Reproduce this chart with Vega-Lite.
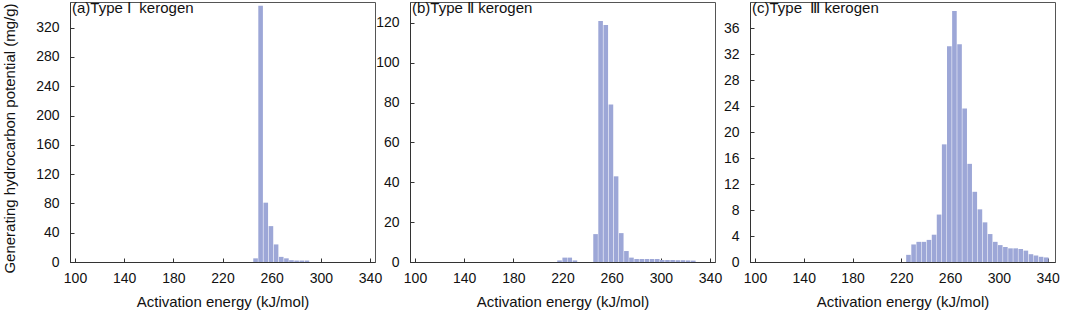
{
  "$schema": "https://vega.github.io/schema/vega-lite/v6.json",
  "padding": {"left": 2, "top": 0, "right": 5, "bottom": 3},
  "background": "white",
  "datasets": {
    "typeI": [
      {"energy": 246.9, "potential": 5},
      {"energy": 251.0, "potential": 350},
      {"energy": 255.2, "potential": 81},
      {"energy": 259.4, "potential": 49},
      {"energy": 263.6, "potential": 24},
      {"energy": 267.8, "potential": 7},
      {"energy": 272.0, "potential": 5},
      {"energy": 276.1, "potential": 2.5},
      {"energy": 280.3, "potential": 2},
      {"energy": 284.5, "potential": 2},
      {"energy": 288.7, "potential": 2}
    ],
    "typeII": [
      {"energy": 217.6, "potential": 0.8},
      {"energy": 221.8, "potential": 2.2},
      {"energy": 225.9, "potential": 2.2},
      {"energy": 230.1, "potential": 0.8},
      {"energy": 246.9, "potential": 14},
      {"energy": 251.0, "potential": 121},
      {"energy": 255.2, "potential": 119},
      {"energy": 259.4, "potential": 79},
      {"energy": 263.6, "potential": 43},
      {"energy": 267.8, "potential": 14.5},
      {"energy": 272.0, "potential": 5.5},
      {"energy": 276.1, "potential": 2.2},
      {"energy": 280.3, "potential": 1.5},
      {"energy": 284.5, "potential": 1.5},
      {"energy": 288.7, "potential": 1.5},
      {"energy": 292.9, "potential": 1.5},
      {"energy": 297.1, "potential": 1.5},
      {"energy": 301.2, "potential": 1.0},
      {"energy": 305.4, "potential": 1.0},
      {"energy": 309.6, "potential": 1.0},
      {"energy": 313.8, "potential": 0.9},
      {"energy": 318.0, "potential": 0.9},
      {"energy": 322.2, "potential": 0.8},
      {"energy": 326.4, "potential": 0.7}
    ],
    "typeIII": [
      {"energy": 225.9, "potential": 1.1},
      {"energy": 230.1, "potential": 2.7},
      {"energy": 234.3, "potential": 3.1},
      {"energy": 238.5, "potential": 3.1},
      {"energy": 242.7, "potential": 3.4},
      {"energy": 246.9, "potential": 4.2},
      {"energy": 251.0, "potential": 7.3},
      {"energy": 255.2, "potential": 18.1},
      {"energy": 259.4, "potential": 33.2},
      {"energy": 263.6, "potential": 38.6},
      {"energy": 267.8, "potential": 33.5},
      {"energy": 272.0, "potential": 23.6},
      {"energy": 276.1, "potential": 15.1},
      {"energy": 280.3, "potential": 10.8},
      {"energy": 284.5, "potential": 8.1},
      {"energy": 288.7, "potential": 6.1},
      {"energy": 292.9, "potential": 4.3},
      {"energy": 297.1, "potential": 3.1},
      {"energy": 301.2, "potential": 2.6},
      {"energy": 305.4, "potential": 2.3},
      {"energy": 309.6, "potential": 2.1},
      {"energy": 313.8, "potential": 2.1},
      {"energy": 318.0, "potential": 2.0},
      {"energy": 322.2, "potential": 1.75},
      {"energy": 326.4, "potential": 1.2},
      {"energy": 330.5, "potential": 1.0},
      {"energy": 334.7, "potential": 0.8},
      {"energy": 338.9, "potential": 0.7}
    ]
  },
  "spacing": 35,
  "bounds": "flush",
  "hconcat": [
    {
      "width": 305,
      "height": 260,
      "data": {"name": "typeI"},
      "title": {"text": "(a)Type Ⅰ\u00a0\u00a0kerogen"},
      "mark": {"type": "bar", "size": 4.6, "color": "#9da7d7"},
      "encoding": {
        "x": {"field": "energy", "type": "quantitative", "title": "Activation energy (kJ/mol)",
              "scale": {"domain": [100, 340], "nice": false, "zero": false},
              "axis": {"values": [100, 140, 180, 220, 260, 300, 340]}},
        "y": {"field": "potential", "type": "quantitative", "title": "Generating hydrocarbon potential (mg/g)",
              "scale": {"domain": [0, 355], "nice": false},
              "axis": {"values": [0, 40, 80, 120, 160, 200, 240, 280, 320], "titleY": 136}}
      }
    },
    {
      "width": 305,
      "height": 260,
      "data": {"name": "typeII"},
      "title": {"text": "(b)Type Ⅱ\u00a0kerogen"},
      "mark": {"type": "bar", "size": 4.6, "color": "#9da7d7"},
      "encoding": {
        "x": {"field": "energy", "type": "quantitative", "title": "Activation energy (kJ/mol)",
              "scale": {"domain": [100, 340], "nice": false, "zero": false},
              "axis": {"values": [100, 140, 180, 220, 260, 300, 340]}},
        "y": {"field": "potential", "type": "quantitative", "title": null,
              "scale": {"domain": [0, 130.5], "nice": false},
              "axis": {"values": [0, 20, 40, 60, 80, 100, 120]}}
      }
    },
    {
      "width": 305,
      "height": 260,
      "data": {"name": "typeIII"},
      "title": {"text": "(c)Type\u00a0\u00a0Ⅲ kerogen"},
      "mark": {"type": "bar", "size": 4.6, "color": "#9da7d7"},
      "encoding": {
        "x": {"field": "energy", "type": "quantitative", "title": "Activation energy (kJ/mol)",
              "scale": {"domain": [100, 342], "nice": false, "zero": false},
              "axis": {"values": [100, 140, 180, 220, 260, 300, 340]}},
        "y": {"field": "potential", "type": "quantitative", "title": null,
              "scale": {"domain": [0, 40], "nice": false},
              "axis": {"values": [0, 4, 8, 12, 16, 20, 24, 28, 32, 36]}}
      }
    }
  ],
  "config": {
    "font": "Liberation Sans",
    "view": {"stroke": "#555", "strokeWidth": 1},
    "title": {"anchor": "start", "frame": "group", "offset": -14, "dx": 2, "fontSize": 15, "fontWeight": "normal", "color": "#111", "font": "Liberation Sans"},
    "axis": {
      "grid": false,
      "labelFont": "Liberation Sans",
      "labelFontSize": 14,
      "labelColor": "#111",
      "titleFont": "Liberation Sans",
      "titleFontSize": 15,
      "titleFontWeight": "normal",
      "titleColor": "#111",
      "domainColor": "#333",
      "tickColor": "#333",
      "tickSize": -4
    },
    "axisX": {"titlePadding": 9, "labelPadding": 13},
    "axisY": {"titlePadding": 18, "labelPadding": 15}
  }
}
